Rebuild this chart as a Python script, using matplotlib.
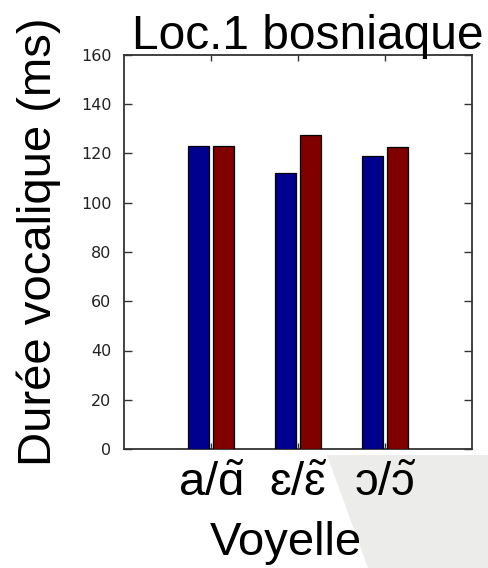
import matplotlib
matplotlib.use("Agg")
import matplotlib.pyplot as plt
import numpy as np
from matplotlib.patches import Polygon

categories = ["$\\mathrm{a/\\tilde{\u0251}}$", "$\\mathrm{\u025b/\\tilde{\u025b}}$", "$\\mathrm{\u0254/\\tilde{\u0254}}$"]
oral = [123, 112, 119]
nasal = [123, 127.5, 122.5]
yticks = [0, 20, 40, 60, 80, 100, 120, 140, 160]

plt.rcParams['font.family'] = ['Liberation Sans', 'DejaVu Sans']
plt.rcParams['mathtext.fontset'] = 'custom'
plt.rcParams['mathtext.rm'] = 'Liberation Sans'
plt.rcParams['mathtext.it'] = 'Liberation Sans:italic'
plt.rcParams['mathtext.bf'] = 'Liberation Sans:bold'

fig = plt.figure(figsize=(4.88, 5.68), dpi=100)
ax = fig.add_axes([124/488, 1-449/568, 348/488, 394/568])

# background artifact (grey slide shape)
poly = Polygon([[327/488, 1-455/568], [1, 1-455/568], [1, 0], [368/488, 0]],
               closed=True, transform=fig.transFigure, facecolor='#ececeb',
               edgecolor='none', zorder=-10)
fig.patches.append(poly)

x = np.arange(1, len(categories)+1)
w = 0.233
off = 0.145
ax.bar(x - off, oral, width=w, color='#00008f', edgecolor='black', linewidth=0.9, zorder=3)
ax.bar(x + off, nasal, width=w, color='#800000', edgecolor='black', linewidth=0.9, zorder=3)

ax.set_xlim(0, 4)
ax.set_ylim(0, 160)
ax.set_xticks(x)
ax.set_xticklabels(categories, fontsize=34)
ax.set_yticks(yticks)
ax.set_yticklabels([str(v) for v in yticks], fontsize=11.5, family=['DejaVu Sans'], color='#222222')
ax.tick_params(axis='both', direction='in', top=True, right=True, length=6, width=1, color='#333333')
ax.tick_params(axis='x', length=4, pad=9)
ax.tick_params(axis='y', pad=9)
for s in ax.spines.values():
    s.set_linewidth(1.3)
    s.set_color('#333333')

ax.set_title("Loc.1 bosniaque", fontsize=34.5, x=0.529, pad=4)
ax.set_ylabel("Durée vocalique (ms)", fontsize=34)
ax.yaxis.set_label_coords(-0.181, 0.525)
ax.set_xlabel("Voyelle", fontsize=34)
ax.xaxis.set_label_coords(0.466, -0.183)

fig.savefig("out.png", dpi=100, facecolor='white')
